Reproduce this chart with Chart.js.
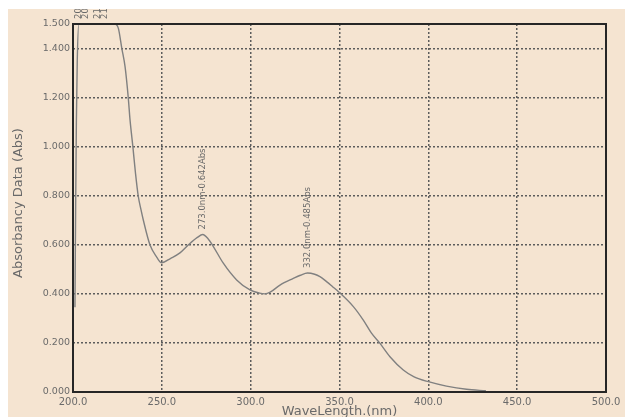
<!DOCTYPE html>
<html>
<head>
<meta charset="utf-8">
<script src="https://cdn.jsdelivr.net/npm/chart.js@4.4.1/dist/chart.umd.min.js"></script>
<style>
  html, body { margin: 0; padding: 0; background: #fff; }
  body { width: 625px; height: 419px; position: relative; overflow: hidden; }
  #wrap { position: absolute; left: 8px; top: 9px; width: 617px; height: 408px; background: #f5e4d1; }
  canvas { display: block; }
</style>
</head>
<body>
<div id="wrap"><canvas id="chart" width="617" height="408"></canvas></div>
<script>
// ── Data ──────────────────────────────────────────────────────────────────────
const waveNm = [
  201.1, 201.5, 201.9, 202.4, 203.3, 223.5, 225.5, 227.5, 229.3, 231.1,
  232.1, 233.7, 235.2, 236.7, 238.2, 239.6, 243.3, 247.1, 249.9, 255.0,
  260.2, 265.0, 270.0, 273.0, 276.0, 279.0, 284.6, 292.1, 299.6, 305.0,
  308.0, 311.0, 316.5, 324.0, 328.0, 332.0, 336.0, 339.0, 342.7, 346.0,
  350.0, 357.8, 363.4, 368.0, 372.8, 378.4, 385.9, 392.0, 400.0, 410.2,
  421.5, 432.4,
]
const absorbance = [
  0.345, 0.760, 1.100, 1.350, 1.500, 1.500, 1.483, 1.400, 1.326, 1.200,
  1.109, 1.000, 0.890, 0.800, 0.745, 0.700, 0.600, 0.550, 0.527, 0.545,
  0.567, 0.600, 0.630, 0.642, 0.625, 0.593, 0.525, 0.457, 0.416, 0.403,
  0.400, 0.407, 0.436, 0.463, 0.476, 0.485, 0.480, 0.470, 0.450, 0.430,
  0.405, 0.348, 0.293, 0.240, 0.198, 0.144, 0.090, 0.062, 0.042, 0.024,
  0.011, 0.005,
]

// peak markers (the first four sit on the clipped plateau)
const peakNm  = [203.0, 207.0, 214.0, 218.0, 273.0, 332.0]
const peakAbs = [3.318, 3.541, 3.612, 3.487, 0.642, 0.485]

const yTicks = [0, 0.2, 0.4, 0.6, 0.8, 1.0, 1.2, 1.4, 1.5]
const xTicks = [200, 250, 300, 350, 400, 450, 500]

const GREY_TEXT = '#6a6a6a'
const FONT      = 'DejaVu Sans'

// ── Plugins ───────────────────────────────────────────────────────────────────
const frameAndLabels = {
  id: 'frameAndLabels',
  afterDatasetsDraw(chart) {
    const { ctx, chartArea: a, scales } = chart
    ctx.save()

    // plot frame
    ctx.strokeStyle = '#262626'
    ctx.lineWidth   = 2
    ctx.strokeRect(a.left, a.top, a.right - a.left, a.bottom - a.top)

    // peak labels, rotated, reading upward from just above the peak
    ctx.fillStyle    = GREY_TEXT
    ctx.font         = `8.5px "${FONT}"`
    ctx.textAlign    = 'left'
    ctx.textBaseline = 'middle'
    peakNm.forEach((nm, i) => {
      const x = scales.x.getPixelForValue(nm)
      const y = scales.y.getPixelForValue(Math.min(peakAbs[i], 1.5))
      ctx.save()
      ctx.translate(x, y - 5)
      ctx.rotate(-Math.PI / 2)
      ctx.fillText(`${nm.toFixed(1)}nm-${peakAbs[i].toFixed(3)}Abs`, 0, 0)
      ctx.restore()
    })

    // axis titles
    ctx.font         = `13px "${FONT}"`
    ctx.fillStyle    = GREY_TEXT
    ctx.textAlign    = 'center'
    ctx.textBaseline = 'middle'
    ctx.fillText('WaveLength.(nm)', (a.left + a.right) / 2, 403)
    ctx.save()
    ctx.translate(11, 194)
    ctx.rotate(-Math.PI / 2)
    ctx.fillText('Absorbancy Data (Abs)', 0, 0)
    ctx.restore()

    ctx.restore()
  },
}

// ── Chart ─────────────────────────────────────────────────────────────────────
new Chart(document.getElementById('chart'), {
  type: 'line',
  data: {
    datasets: [{
      data: waveNm.map((x, i) => ({ x, y: absorbance[i] })),
      borderColor: '#808080',
      borderWidth: 1.4,
      pointRadius: 0,
      fill: false,
      cubicInterpolationMode: 'monotone',
    }],
  },
  options: {
    responsive: false,
    devicePixelRatio: 1,
    animation: false,
    layout: { padding: { left: 0, top: 15, right: 19, bottom: 0 } },
    plugins: { legend: { display: false }, tooltip: { enabled: false } },
    scales: {
      x: {
        type: 'linear',
        min: 200,
        max: 500,
        afterBuildTicks: s => { s.ticks = xTicks.map(v => ({ value: v })) },
        afterFit: s => { s.height = 25 },
        ticks: {
          color: GREY_TEXT,
          font: { family: FONT, size: 10 },
          padding: 4,
          maxRotation: 0,
          autoSkip: false,
          callback: v => Number(v).toFixed(1),
        },
        grid: { color: '#5c5c5c', lineWidth: 1.5, drawTicks: false },
        border: { display: false, dash: [2, 2] },
      },
      y: {
        min: 0,
        max: 1.5,
        afterBuildTicks: s => { s.ticks = yTicks.map(v => ({ value: v })) },
        afterFit: s => { s.width = 65 },
        ticks: {
          color: GREY_TEXT,
          font: { family: FONT, size: 9.5 },
          padding: 3,
          autoSkip: false,
          callback: v => Number(v).toFixed(3),
        },
        grid: { color: '#5c5c5c', lineWidth: 1.5, drawTicks: false },
        border: { display: false, dash: [2, 2] },
      },
    },
  },
  plugins: [frameAndLabels],
})
</script>
</body>
</html>
